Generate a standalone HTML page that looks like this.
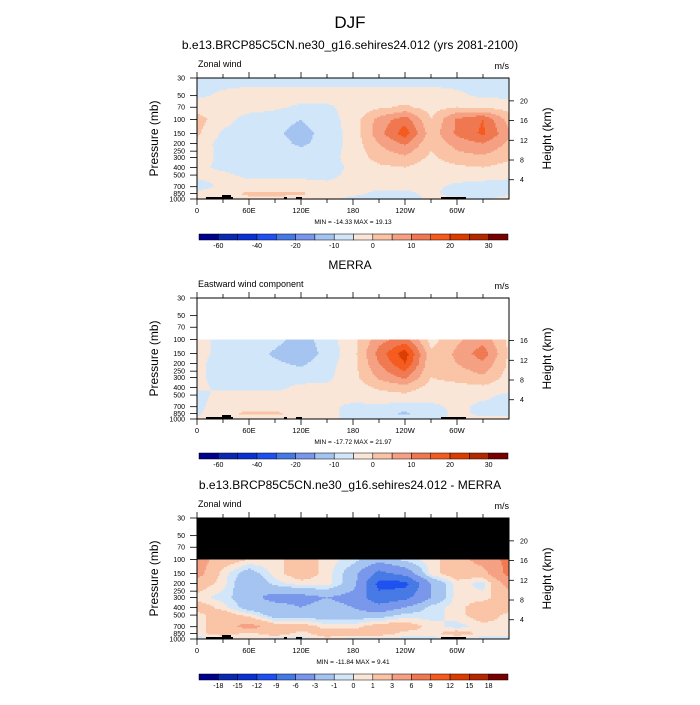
<!DOCTYPE html>
<html><head><meta charset="utf-8"><style>
body{margin:0;background:#fff;font-family:"Liberation Sans",sans-serif}
svg text{font-family:"Liberation Sans",sans-serif;fill:#000}
</style></head><body>
<svg id="s" width="700" height="700" viewBox="0 0 700 700" xmlns="http://www.w3.org/2000/svg">
<rect width="700" height="700" fill="#fff"/>
<text x="350" y="28" font-size="17" text-anchor="middle">DJF</text>
</svg>
<script>
const pLevels=[30,50,70,100,150,200,300,400,500,700,850,1000];
const lons=[0,30,60,90,120,150,180,210,240,270,300,330,360];
const pTicks=[30,50,70,100,150,200,250,300,400,500,700,850,1000];
const zTicks=[20,16,12,8,4];
const lonTickLabels=["0","60E","120E","180","120W","60W"];
const colors=["#00008c","#0a28b4","#0a32d2","#1e50f0","#4678e6","#7896eb","#a5c3f0","#d2e6fa","#fae6d7","#fac3a5","#f5a082","#f07850","#f55a1e","#dc3c00","#b42800","#780000"];
const bounds1=[-70,-60,-50,-40,-30,-20,-15,-10,-5,0,5,10,15,20,25,30,35];
const labels1=["-60","-40","-20","-10","0","10","20","30"];
const bounds3=[-21,-18,-15,-12,-9,-6,-3,-1,0,1,3,6,9,12,15,18,21];
const labels3=["-18","-15","-12","-9","-6","-3","-1","0","1","3","6","9","12","15","18"];
const model=[
[-7,-7,-7,-7,-7,-7,-7,-7,-7,-7,-7,-7,-7],
[-6,-4,-3,-3,-3,-3,-3,-3,-3,-3,-4,-6,-6],
[-2,-3,-3,-4,-6,-6,-3,-1,1,-2,0,-1,-2],
[2,-3,-7,-8,-10,-7,-3,7,13,0,11,15,3],
[1,-6,-8,-9,-12,-8,-3,8,18,2,11,16,6],
[-2,-7,-8,-8,-11,-8,-3,5,11,1,7,10,4],
[-3,-6,-7,-7,-7,-7,-3,2,4,-1,3,4,1],
[-4,-6,-7,-7,-7,-7,-4,-1,0,-3,-1,0,-2],
[-4,-4,-6,-6,-6,-6,-4,-3,-3,-4,-3,-3,-4],
[-7,-4,-3,-3,-3,-4,-4,-4,-4,-4,-6,-7,-7],
[-4,-2,1,1,1,-3,-4,-6,-6,-4,-7,-7,-6],
[-3,-3,-1,-1,-2,-4,-6,-7,-7,-4,-4,-6,-3]];
const merra=[null,null,null,
[-3,-7,-6,-8,-13,-7,-2,8,12,-2,4,8,-1],
[-3,-7,-7,-11,-14,-8,-2,12,23,1,6,13,-1],
[-4,-7,-8,-9,-11,-7,-2,10,20,1,5,9,-1],
[-4,-7,-7,-7,-7,-6,-2,6,11,0,2,4,-2],
[-4,-6,-6,-6,-4,-4,-3,1,3,-2,-2,-1,-3],
[-6,-4,-4,-4,-4,-4,-3,-2,-1,-3,-4,-4,-6],
[-6,-3,-2,-2,-3,-4,-6,-6,-7,-6,-4,-6,-6],
[-6,-1,1,1,-2,-4,-6,-8,-11,-7,-4,-6,-6],
[-4,-3,-2,-2,-3,-4,-6,-7,-7,-6,-4,-4,-4]];
const diff=[null,null,null,
[4,2,1,0.5,2,0.5,-0.5,-2,-0.5,0.5,2,4,7],
[4,0.5,-2,0.5,2,0.5,-2,-7,-5,0.5,2,2,7],
[2,0.5,-3,-0.5,0.5,0.5,-2,-10,-10,-3,0.5,-0.5,4],
[0.5,-0.5,-2,-4,-4,-3,-4,-8,-7,-3,0.5,0.5,2],
[2,0.5,-2,-2,-3,-2,-3,-5,-3,-0.5,0.5,2,2],
[0.5,2,0.5,-2,-2,-2,-2,-2,-0.5,-0.5,0.5,2,0.5],
[0.5,2,4,2,2,0.5,0.5,2,2,0.5,-0.5,0.5,0.5],
[0.5,2,0.5,2,0.5,2,2,2,0.5,0.5,2,0.5,0.5],
[-0.5,-0.5,0.5,-0.5,-0.5,0.5,-0.5,-0.5,-0.5,-0.5,-0.5,-0.5,-0.5]];
const minmax=[["-14.33","19.13"],["-17.72","21.97"],["-11.84","9.41"]];

const NS="http://www.w3.org/2000/svg";
const svg=document.getElementById('s');
const X0=197,X1=509,PH=121;
function xOf(lon){return X0+lon/360*(X1-X0);}
function yOf(p,top){return top+Math.log(p/30)/Math.log(1000/30)*PH;}
function mk(tag,at,parent){const e=document.createElementNS(NS,tag);for(const k in at)e.setAttribute(k,at[k]);(parent||svg).appendChild(e);return e;}
function txt(x,y,s,size,anchor,parent){const t=mk('text',{x:x,y:y,'font-size':size,'text-anchor':anchor||'start'},parent);t.textContent=s;return t;}
function val(grid,lon,p){
  const lp=Math.log(p);let i=0;
  while(i<pLevels.length-2&&Math.log(pLevels[i+1])<lp)i++;
  const f=(lp-Math.log(pLevels[i]))/(Math.log(pLevels[i+1])-Math.log(pLevels[i]));
  let j=Math.min(11,Math.floor(lon/30));const g=(lon-lons[j])/30;
  const a=grid[i],b=grid[i+1];
  if(!a||!b)return null;
  const v0=a[j]*(1-g)+a[j+1]*g,v1=b[j]*(1-g)+b[j+1]*g;
  return v0*(1-f)+v1*f;
}
function cidx(v,b){let k=0;for(let i=1;i<b.length-1;i++)if(v>=b[i])k=i;return Math.min(15,k);}

function panel(top,grid,bounds,labels,title,sub,aboveFill,mm,cbY,showZ20){
  const g=mk('g',{});
  
  
  txt(350,top-(sub?29:12),title,12,'middle',g);
  txt(X0+1,top-11,sub,9,'start',g);
  txt(X1,top-9,'m/s',9,'end',g);
  const y100=yOf(100,top);
  if(aboveFill){const r=mk('rect',{x:X0,y:top,width:X1-X0,height:y100-top,fill:aboveFill},g);}
  const field=mk('g',{},g);
  
  
  const ys=grid[0]?top:y100;
  for(let y=ys;y<top+PH;y+=1.5){
    const p=Math.exp(Math.log(30)+((y+0.75-top)/PH)*Math.log(1000/30));
    let runStart=X0,runC=-1;
    for(let x=X0;x<=X1;x+=1.5){
      let c=-1;
      if(x<X1){const v=val(grid,Math.min(359.9,(x+0.75-X0)/(X1-X0)*360),Math.min(1000,p));if(v!==null)c=cidx(v,bounds);}
      if(c!==runC||x>=X1){
        if(runC>=0){mk('rect',{x:runStart,y:y,width:x-runStart+0.3,height:1.8,fill:colors[runC]},field);}
        runStart=x;runC=c;
      }
    }
  }
  const land=[[206,233,2],[222,231,4],[284,287,2],[296,302,2],[441,466,2]];
  land.forEach(l=>{const r=mk('rect',{x:l[0],y:top+PH-l[2],width:l[1]-l[0],height:l[2],fill:'#000'},g);});
  const fr=mk('rect',{x:X0,y:top,width:X1-X0,height:PH,fill:'none',stroke:'#000','stroke-width':1},g);
  
  pTicks.forEach(p=>{const y=yOf(p,top);mk('line',{x1:X0-7,x2:X0,y1:y,y2:y,stroke:'#000','stroke-width':0.8},g);
    const t=txt(X0-12,y+2.5,String(p),7,'end',g);});
  zTicks.forEach(z=>{if(z==20&&!showZ20)return;const p=1013*Math.exp(-z/7);const y=yOf(p,top);
    mk('line',{x1:X1,x2:X1+5,y1:y,y2:y,stroke:'#000','stroke-width':0.8},g);
    const t=txt(X1+11,y+2.5,String(z),7,'start',g);});
  for(let lon=0;lon<360;lon+=30){const x=xOf(lon);
    mk('line',{x1:x,x2:x,y1:top+PH,y2:top+PH+(lon%60?4:6),stroke:'#000','stroke-width':0.8},g);
    mk('line',{x1:x,x2:x,y1:top,y2:top-(lon%60?4:6),stroke:'#000','stroke-width':0.8},g);
    if(lon%60==0){const t=txt(x,top+PH+14,lonTickLabels[lon/60],7.5,'middle',g);}}
  const ya=txt(0,0,'Pressure (mb)',12,'middle',g);ya.setAttribute('transform','translate(158,'+(top+PH/2)+') rotate(-90)');
  const yb=txt(0,0,'Height (km)',12,'middle',g);yb.setAttribute('transform','translate(551,'+(top+PH/2)+') rotate(-90)');
  const m=txt(353,top+PH+25,'MIN = '+mm[0]+'  MAX =  '+mm[1],6.5,'middle',g);
  const cb=mk('g',{},g);
  const bw=(508-199)/16;
  colors.forEach((c,i)=>{mk('rect',{x:199+i*bw,y:cbY,width:bw,height:6,fill:c,stroke:'#000','stroke-width':0.5},cb);});
  const step=labels.length==8?2:1;
  labels.forEach((l,i)=>{const bi=step==2?1+2*i:1+i;const t=txt(199+bi*bw,cbY+14,l,7,'middle',cb);});
}
panel(78,model,bounds1,labels1,'b.e13.BRCP85C5CN.ne30_g16.sehires24.012 (yrs 2081-2100)','Zonal wind',null,minmax[0],234,true);
panel(298,merra,bounds1,labels1,'MERRA','Eastward wind component','#fff',minmax[1],453,false);
panel(518,diff,bounds3,labels3,'b.e13.BRCP85C5CN.ne30_g16.sehires24.012 - MERRA','Zonal wind','#000',minmax[2],674,true);
</script>
</body></html>
